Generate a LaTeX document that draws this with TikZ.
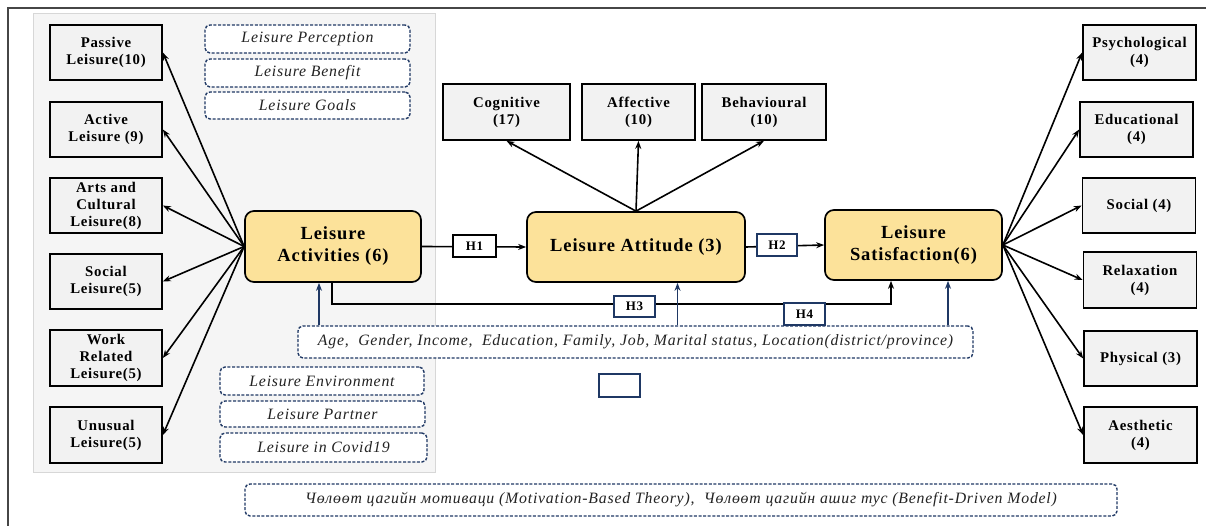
\documentclass[tikz,border=0pt]{standalone}
\usepackage{fontspec}
\setmainfont{Liberation Serif}
\newfontfamily\bx[LetterSpace=5]{Liberation Serif}
\usetikzlibrary{arrows.meta,positioning}
\definecolor{navy}{RGB}{31,56,100}
\definecolor{ylw}{RGB}{252,226,154}
\definecolor{boxgray}{RGB}{242,242,242}
\definecolor{panelgray}{RGB}{245,245,245}
\definecolor{panelline}{RGB}{215,215,215}
\definecolor{frame}{RGB}{70,70,70}
\definecolor{dtext}{RGB}{35,35,35}
\tikzset{
  smallbox/.style={draw=black, line width=1.7pt, fill=boxgray, align=center, inner sep=1pt,
    font=\bx\bfseries\fontsize{14.8}{17}\selectfont},
  mainbox/.style={draw=black, line width=1.7pt, fill=ylw, rounded corners=9pt, align=center,
    font=\bx\bfseries\fontsize{18.5}{22}\selectfont},
  dbox/.style={draw=navy, line width=1.4pt, dash pattern=on 3pt off 1.6pt, fill=white,
    rounded corners=5pt, align=center, text=dtext, inner sep=1pt,
    font=\bx\itshape\fontsize{15.8}{18}\selectfont},
  hbox/.style={draw=navy, line width=1.4pt, fill=white, inner sep=1pt,
    font=\bx\bfseries\fontsize{13}{15}\selectfont},
  arr/.style={line width=1.6pt, -{Stealth[length=8pt,width=6pt]}},
  barr/.style={draw=navy, line width=1.7pt, -{Stealth[length=8pt,width=6pt]}},
}
\begin{document}
\begin{tikzpicture}[x=1pt,y=-1pt]
\useasboundingbox (0,0) rectangle (1206,526);
% outer frame (cropped)
\draw[frame, line width=1.5pt] (8,526) -- (8,8) -- (1206,8);
% grey panel
\fill[panelgray, draw=panelline, line width=0.8pt] (33,13) rectangle (435,472);

% left boxes
\node[smallbox, minimum width=112pt, minimum height=55pt] (L1) at (106,52.5) {Passive\\Leisure(10)};
\node[smallbox, minimum width=112pt, minimum height=55pt] (L2) at (106,129.5) {Active\\Leisure (9)};
\node[smallbox, minimum width=112pt, minimum height=55pt] (L3) at (106,205.5) {Arts and\\Cultural\\Leisure(8)};
\node[smallbox, minimum width=112pt, minimum height=55pt] (L4) at (106,281.5) {Social\\Leisure(5)};
\node[smallbox, minimum width=112pt, minimum height=56pt] (L5) at (106,358) {Work\\Related\\Leisure(5)};
\node[smallbox, minimum width=112pt, minimum height=56pt] (L6) at (106,435) {Unusual\\Leisure(5)};

% right boxes
\node[smallbox, minimum width=113pt, minimum height=55pt] (R1) at (1139.5,52.5) {Psychological\\(4)};
\node[smallbox, minimum width=113pt, minimum height=55pt] (R2) at (1136.5,129.5) {Educational\\(4)};
\node[smallbox, minimum width=113pt, minimum height=55pt] (R3) at (1139,205.5) {Social (4)};
\node[smallbox, minimum width=113pt, minimum height=56pt] (R4) at (1140,280) {Relaxation\\(4)};
\node[smallbox, minimum width=113pt, minimum height=55pt] (R5) at (1140.5,358.5) {Physical (3)};
\node[smallbox, minimum width=113pt, minimum height=56pt] (R6) at (1140.5,435) {Aesthetic\\(4)};

% top boxes
\node[smallbox, minimum width=127pt, minimum height=56pt] (C1) at (506.5,112) {Cognitive\\(17)};
\node[smallbox, minimum width=113pt, minimum height=56pt] (C2) at (638.5,112) {Affective\\(10)};
\node[smallbox, minimum width=124pt, minimum height=56pt] (C3) at (764,112) {Behavioural\\(10)};

% main nodes
\node[mainbox, minimum width=176pt, minimum height=71pt] (A) at (333,246.5) {Leisure\\Activities (6)};
\node[mainbox, minimum width=218pt, minimum height=70pt] (T) at (636,247) {Leisure Attitude (3)};
\node[mainbox, minimum width=177pt, minimum height=70pt] (S) at (913.5,245) {Leisure\\Satisfaction(6)};

% dashed boxes
\node[dbox, minimum width=205pt, minimum height=28pt] (D1) at (307.5,39) {Leisure Perception};
\node[dbox, minimum width=205pt, minimum height=28pt] (D2) at (307.5,73) {Leisure Benefit};
\node[dbox, minimum width=205pt, minimum height=27pt] (D3) at (307.5,105.5) {Leisure Goals};
\node[dbox, minimum width=204pt, minimum height=28pt] (D4) at (322,381) {Leisure Environment};
\node[dbox, minimum width=205pt, minimum height=26pt] (D5) at (322.5,414) {Leisure Partner};
\node[dbox, minimum width=207pt, minimum height=29pt] (D6) at (323.5,447.5) {Leisure in Covid19};
\node[dbox, minimum width=675pt, minimum height=32pt] (DM) at (635.5,342)
  {Age,\ \ Gender, Income,\ \ Education, Family, Job, Marital status, Location(district/province)};
\node[dbox, minimum width=872pt, minimum height=32pt] (MB) at (681,500)
  {Чөлөөт цагийн мотиваци (Motivation-Based Theory),\ \ Чөлөөт цагийн ашиг тус (Benefit-Driven Model)};

% small empty box
\node[draw=navy, line width=1.4pt, fill=white, minimum width=41pt, minimum height=23pt, inner sep=0pt] (E) at (619.5,385.5) {};

% arrows left
\foreach \n in {L1,L2,L3,L4,L5,L6} \draw[arr] (A.west) -- (\n.east);
% arrows right
\foreach \n in {R1,R2,R3,R4,R5,R6} \draw[arr] (S.east) -- (\n.west);
% arrows top
\foreach \n in {C1,C2,C3} \draw[arr] (T.north) -- (\n.south);

% hypotheses lines
\draw[arr] (A.east) -- (T.west);
\draw[arr] (T.east) -- (S.west);
\coordinate (h1) at (332,304);
\coordinate (h2) at (891,304);
\draw[arr] (A.south -| h1) |- (h2) -- (S.south -| h2);

% blue arrows
\coordinate (b1) at (319,342);
\coordinate (b2) at (677.5,342);
\coordinate (b3) at (948,342);
\draw[barr] (DM.north -| b1) -- (A.south -| b1);
\draw[barr] (DM.north -| b2) -- (T.south -| b2);
\draw[barr] (DM.north -| b3) -- (S.south -| b3);

% H labels
\node[hbox, draw=black, minimum width=43pt, minimum height=22pt] (H1) at (474.5,246) {H1};
\node[hbox, minimum width=40pt, minimum height=22pt] (H2) at (777,245) {H2};
\node[hbox, minimum width=41pt, minimum height=21pt] (H3) at (634.5,306.5) {H3};
\node[hbox, minimum width=41pt, minimum height=22pt] (H4) at (804.5,314) {H4};
\end{tikzpicture}
\end{document}
